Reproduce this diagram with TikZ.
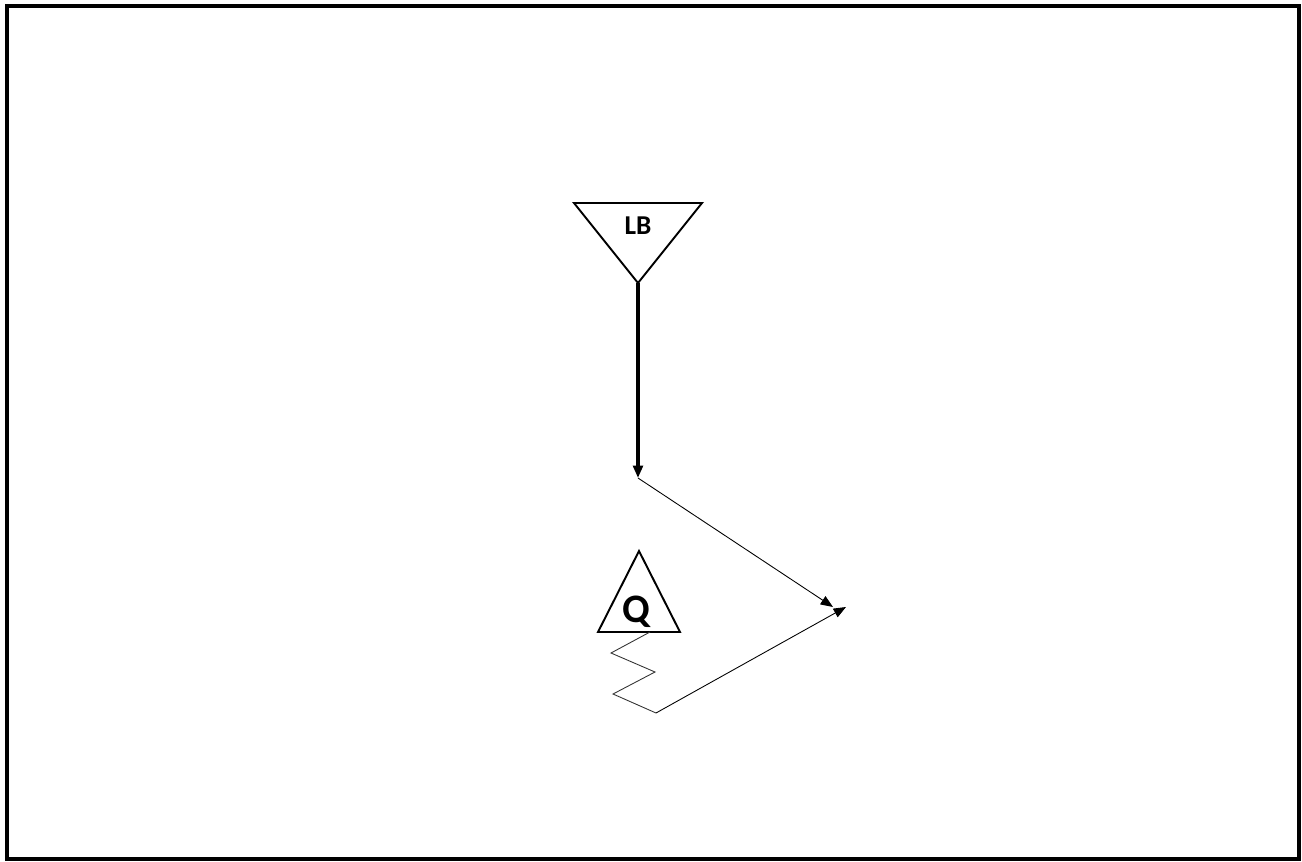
\documentclass[tikz,border=0pt]{standalone}
\usepackage{fontspec}
\setmainfont{Carlito}
\usetikzlibrary{arrows.meta}

\begin{document}
\begin{tikzpicture}[x=0.02cm, y=-0.02cm,
  tri/.style={draw=black, line width=1.1pt, line join=miter},
  lbl/.style={font=\bfseries, inner sep=0pt},
  feed/.style={-{Triangle[length=7pt, width=5.5pt]}, line width=2.1pt},
  link/.style={-{Triangle[length=7pt, width=5.5pt]}, line width=0.5pt},
  wire/.style={line width=0.5pt, draw=black!80}
]
\useasboundingbox (0,0) rectangle (1302,862);
% Frame
\draw[line width=2.3pt] (7,6) rectangle (1299,859);

% Triangle LB
\coordinate (lbL) at (574,203);
\coordinate (lbR) at (702,203);
\coordinate (lbA) at (638,283);
\draw[tri] (lbL) -- (lbR) -- (lbA) -- cycle;
\node[lbl, font=\bfseries\fontsize{15.5}{15.5}\selectfont] (lb) at (638,226) {LB};

% Triangle Q
\coordinate (qA) at (639,551);
\coordinate (qL) at (598,632);
\coordinate (qR) at (680,632);
\draw[tri] (qA) -- (qR) -- (qL) -- cycle;
\node[lbl, font=\bfseries\fontsize{23}{23}\selectfont] (q) at (636,612) {Q};

% Zigzag below Q
\coordinate (z0) at (650,632);
\coordinate (z1) at (611,653);
\coordinate (z2) at (655,672);
\coordinate (z3) at (613,694);
\coordinate (z4) at (656,713);

% Connectors
\coordinate (join) at (638,478);
\coordinate (meetA) at (833,607);
\coordinate (meetB) at (846,607);
\draw[feed] (lbA) -- (join);
\draw[link] (join) -- (meetA);
\draw[wire] (z0) -- (z1) -- (z2) -- (z3) -- (z4);
\draw[link] (z4) -- (meetB);
\end{tikzpicture}
\end{document}
